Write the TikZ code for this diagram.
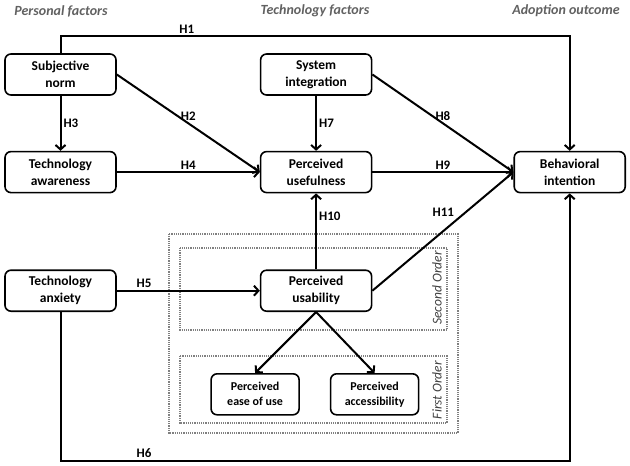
\documentclass[tikz,border=0pt]{standalone}
\usepackage{fontspec}
\setmainfont{Carlito}
\usetikzlibrary{positioning,arrows.meta,backgrounds}

\begin{document}
\begin{tikzpicture}[
		x=1pt, y=-1pt,
		>={Straight Barb[length=4.5pt,width=10pt]},
		node distance=55pt and 143pt,
		line width=2pt,
		factor/.style={rectangle, draw, rounded corners=6pt, line width=1.6pt, minimum width=111pt, minimum height=41pt, align=center, inner sep=2pt, font=\bfseries\fontsize{13.5}{17}\selectfont},
		subfactor/.style={factor, minimum width=88pt, font=\bfseries\fontsize{12}{15}\selectfont},
		header/.style={font=\bfseries\itshape\fontsize{14}{16}\selectfont, text=black!62},
		hlabel/.style={font=\bfseries\fontsize{13}{14}\selectfont, inner sep=2pt},
		orderbox/.style={draw=black!50, densely dotted, line width=1.2pt},
		ordertext/.style={font=\itshape\fontsize{13.5}{15}\selectfont, text=black!75, rotate=90}
	]
	\useasboundingbox (0,0) rectangle (630,466);

	\node[header] (hpers) at (61,11) {Personal factors};
	\node[header] (htech) at (315,11) {Technology factors};
	\node[header] (hadopt) at (566,11) {Adoption outcome};

	\node[factor] (sn) at (60.5,74.5) {Subjective\\norm};
	\node[factor, below=of sn] (aw) {Technology\\awareness};
	\node[factor, right=of aw] (use) {Perceived\\usefulness};
	\node[factor, above=of use] (si) {System\\integration};
	\node[factor, right=141pt of use] (bi) {Behavioral\\intention};
	\node[factor, below=76pt of aw] (ax) {Technology\\anxiety};
	\node[factor, right=of ax] (usa) {Perceived\\usability};
	\node[subfactor, below=61pt of usa, xshift=-61pt] (eou) {Perceived\\ease of use};
	\node[subfactor, below=61pt of usa, xshift=58.5pt] (acc) {Perceived\\accessibility};

	\draw[->] (sn.north) -- ++(0,-17) -| node[hlabel, pos=0.124, above] {H1} (bi.north);
	\draw[->] (sn.east) -- node[hlabel, above] {H2} (use.west);
	\draw[->] (sn) -- node[hlabel, right] {H3} (aw);
	\draw[->] (aw) -- node[hlabel, above] {H4} (use);
	\draw[->] (ax) -- node[hlabel, above, pos=0.19] {H5} (usa);
	\draw[->] (ax.south) -- ++(0,149) -| node[hlabel, pos=0.082, above] {H6} (bi.south);
	\draw[->] (si) -- node[hlabel, right] {H7} (use);
	\draw[->] (si.east) -- node[hlabel, above] {H8} (bi.west);
	\draw[->] (use) -- node[hlabel, above] {H9} (bi);
	\draw[->] (usa) -- node[hlabel, right, pos=0.7] {H10} (use);
	\draw[->] (usa.east) -- node[hlabel, above left, pos=0.6] {H11} (bi.west);
	\draw[->] (usa.south) -- (eou.north);
	\draw[->] (usa.south) -- (acc.north);

	\begin{scope}[on background layer]
		\draw[orderbox] (169,234) rectangle (458,433);
		\draw[orderbox] (180,248) rectangle (447,330);
		\draw[orderbox] (180,356) rectangle (447,423);
	\end{scope}
	\node[ordertext] (second) at (437,288) {Second Order};
	\node[ordertext] (first) at (437,390) {First Order};
\end{tikzpicture}
\end{document}
